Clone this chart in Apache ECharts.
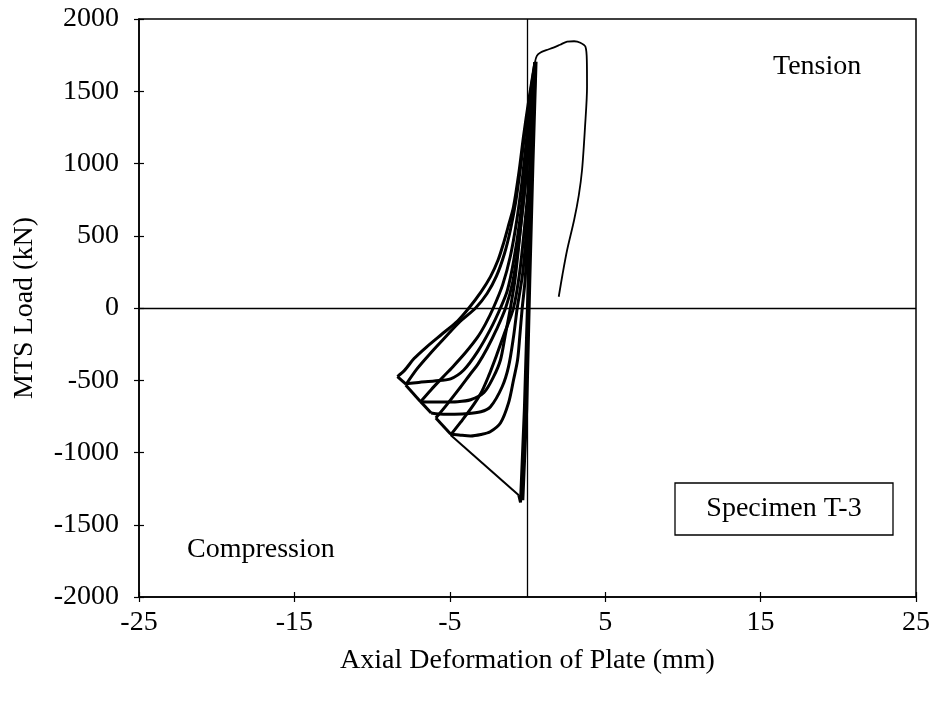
<!DOCTYPE html>
<html><head><meta charset="utf-8">
<script src="https://cdn.jsdelivr.net/npm/echarts@6/dist/echarts.min.js"></script>
<style>html,body{margin:0;padding:0;background:#fff}#c{width:936px;height:704px}</style>
</head><body><div id="c"></div>
<script>
// ---- data (x: deformation mm, y: load kN) ----
const xTicks = [-25, -15, -5, 5, 15, 25];
const yTicks = [-2000, -1500, -1000, -500, 0, 500, 1000, 1500, 2000];
const initCycles = [[0,0],[0.3,900],[0.5,1690],[0.3,900],[0.05,150],[-0.15,-600],[-0.3,-1330],[-0.05,-700],[0.15,200],[0.35,1000],[0.55,1705],[0.3,1000],[0.05,200],[-0.2,-700],[-0.45,-1345],[-0.56,-1295]];
const buckle = [[-0.56,-1295],[-4.95,-879]];
const unload5 = [[-4.95,-879],[-4.3,-790],[-3.6,-690],[-3.0,-590],[-2.5,-470],[-2.0,-330],[-1.5,-180],[-0.9,0],[-0.5,250],[-0.2,550],[0.1,900],[0.3,1250],[0.52,1700]];
const reload1 = [[0.52,1700],[0.3,1100],[0.05,600],[-0.15,200],[-0.34,0],[-0.5,-200],[-0.64,-360],[-0.9,-498],[-1.22,-657],[-1.74,-796],[-2.4,-856],[-3.0,-875],[-3.66,-885],[-4.3,-880],[-4.95,-872]];
const back1 = [[-4.95,-872],[-5.9,-761]];
const unload4 = [[-5.9,-761],[-5.2,-670],[-4.4,-560],[-3.7,-460],[-3.2,-390],[-2.6,-280],[-2.0,-150],[-1.41,0],[-0.95,180],[-0.6,420],[-0.3,700],[0.0,1000],[0.25,1350],[0.5,1700]];
const reload2 = [[0.5,1700],[0.25,1150],[0.0,650],[-0.3,250],[-0.66,0],[-0.9,-200],[-1.22,-406],[-1.63,-545],[-2.38,-683],[-3.0,-718],[-4.0,-732],[-5.0,-735],[-5.7,-733],[-6.2,-726]];
const back2 = [[-6.2,-726],[-6.88,-648]];
const unload3 = [[-6.88,-648],[-6.2,-565],[-5.5,-485],[-4.8,-406],[-4.0,-310],[-3.2,-200],[-2.7,-110],[-2.2,0],[-1.6,160],[-1.1,360],[-0.7,600],[-0.35,880],[-0.05,1180],[0.22,1450],[0.5,1700]];
const reload3 = [[0.5,1700],[0.2,1300],[-0.1,900],[-0.45,550],[-0.8,200],[-1.1,0],[-1.45,-200],[-1.74,-360],[-2.18,-475],[-2.8,-585],[-3.66,-635],[-4.5,-648],[-5.5,-650],[-6.2,-650],[-6.88,-648]];
const back3 = [[-6.88,-648],[-7.84,-533]];
const unload2 = [[-7.84,-533],[-7.1,-420],[-6.3,-320],[-5.4,-215],[-4.4,-100],[-3.34,0],[-2.6,100],[-2.0,220],[-1.5,370],[-1.1,540],[-0.75,740],[-0.45,970],[-0.15,1230],[0.18,1480],[0.48,1700]];
const reload4 = [[0.48,1700],[0.18,1300],[-0.15,950],[-0.5,600],[-0.9,320],[-1.3,120],[-1.74,0],[-2.4,-150],[-3.2,-300],[-4.1,-429],[-4.95,-490],[-6.0,-505],[-7.0,-515],[-7.84,-525]];
const back4 = [[-7.84,-525],[-8.37,-475]];
const unload1 = [[-8.37,-475],[-7.9,-430],[-7.3,-350],[-6.5,-270],[-5.5,-180],[-4.5,-90],[-3.77,0],[-3.0,110],[-2.38,217],[-1.9,330],[-1.54,449],[-1.2,580],[-0.9,701],[-0.55,940],[-0.26,1186],[0.1,1450],[0.48,1700]];
const tensionRun = [[0.48,1700],[0.6,1745],[0.84,1768],[1.2,1784],[1.67,1802],[2.1,1822],[2.55,1843],[3.0,1846],[3.4,1836],[3.73,1808],[3.82,1700],[3.83,1532],[3.7,1250],[3.51,955],[3.3,780],[3.0,609],[2.55,401],[2.25,230],[2.01,78]];

const FONT = 'Liberation Serif';
const chart = echarts.init(document.getElementById('c'), null, {renderer:'canvas'});

function seg(data, smooth, w){
  return {type:'line', data:data, smooth:smooth, symbol:'none', silent:true,
    lineStyle:{color:'#000', width:w}, xAxisIndex:0, yAxisIndex:0, z:3};
}
const thick = 3;
const series = [
  seg(initCycles,false,thick), seg(buckle,false,2),
  seg(unload5,0.3,thick), seg(reload1,0.3,thick), seg(back1,false,thick),
  seg(unload4,0.3,thick), seg(reload2,0.3,thick), seg(back2,false,thick),
  seg(unload3,0.3,thick), seg(reload3,0.3,thick), seg(back3,false,thick),
  seg(unload2,0.3,thick), seg(reload4,0.3,thick), seg(back4,false,thick),
  seg(unload1,0.3,thick), seg(tensionRun,0.3,1.8),
  {type:'line', data:[], silent:true, markLine:{silent:true, symbol:'none', label:{show:false},
     lineStyle:{color:'#000', width:1.3, type:'solid'},
     data:[{xAxis:0},{yAxis:0}]}}
];

const axisLbl = {color:'#000', fontFamily:FONT, fontSize:28};
const tickStyle = {color:'#000', width:1.2};
chart.setOption({
  animation:false,
  backgroundColor:'#fff',
  grid:{left:139, right:20, top:19, bottom:107, show:true, borderColor:'#000', borderWidth:1.5},
  xAxis:[{type:'value', min:xTicks[0], max:xTicks[xTicks.length-1], interval:10,
     splitLine:{show:false}, axisLine:{show:true, onZero:false, lineStyle:{color:'#000', width:1.5}},
     axisTick:{show:true, length:5, lineStyle:tickStyle},
     axisLabel:Object.assign({margin:12}, axisLbl),
     name:'Axial Deformation of Plate (mm)', nameLocation:'middle', nameGap:50,
     nameTextStyle:{color:'#000', fontFamily:FONT, fontSize:28}},
    {type:'value', min:xTicks[0], max:xTicks[xTicks.length-1], interval:10, position:'bottom',
     splitLine:{show:false}, axisLine:{show:false, onZero:false}, axisLabel:{show:false},
     axisTick:{show:true, inside:true, length:5, lineStyle:tickStyle}}],
  yAxis:[{type:'value', min:yTicks[0], max:yTicks[yTicks.length-1], interval:500,
     splitLine:{show:false}, axisLine:{show:true, onZero:false, lineStyle:{color:'#000', width:1.5}},
     axisTick:{show:true, length:5, lineStyle:tickStyle},
     axisLabel:Object.assign({margin:20, formatter:function(v){return String(v);}}, axisLbl),
     name:'MTS Load (kN)', nameLocation:'middle', nameGap:100, nameRotate:90,
     nameTextStyle:{color:'#000', fontFamily:FONT, fontSize:28}},
    {type:'value', min:yTicks[0], max:yTicks[yTicks.length-1], interval:500, position:'left',
     splitLine:{show:false}, axisLine:{show:false, onZero:false}, axisLabel:{show:false},
     axisTick:{show:true, inside:true, length:5, lineStyle:tickStyle}}],
  series: series,
  graphic:[
    {type:'text', left:773, top:53, style:{text:'Tension', font:'28px "Liberation Serif"', fill:'#000'}},
    {type:'text', left:187, top:536, style:{text:'Compression', font:'28px "Liberation Serif"', fill:'#000'}},
    {type:'rect', shape:{x:675, y:483, width:218, height:52}, style:{fill:'#fff', stroke:'#000', lineWidth:1.3}, z:10},
    {type:'text', x:784, y:509, z:11, style:{text:'Specimen T-3', font:'28px "Liberation Serif"', fill:'#000', align:'center', verticalAlign:'middle'}}
  ]
});
</script></body></html>
